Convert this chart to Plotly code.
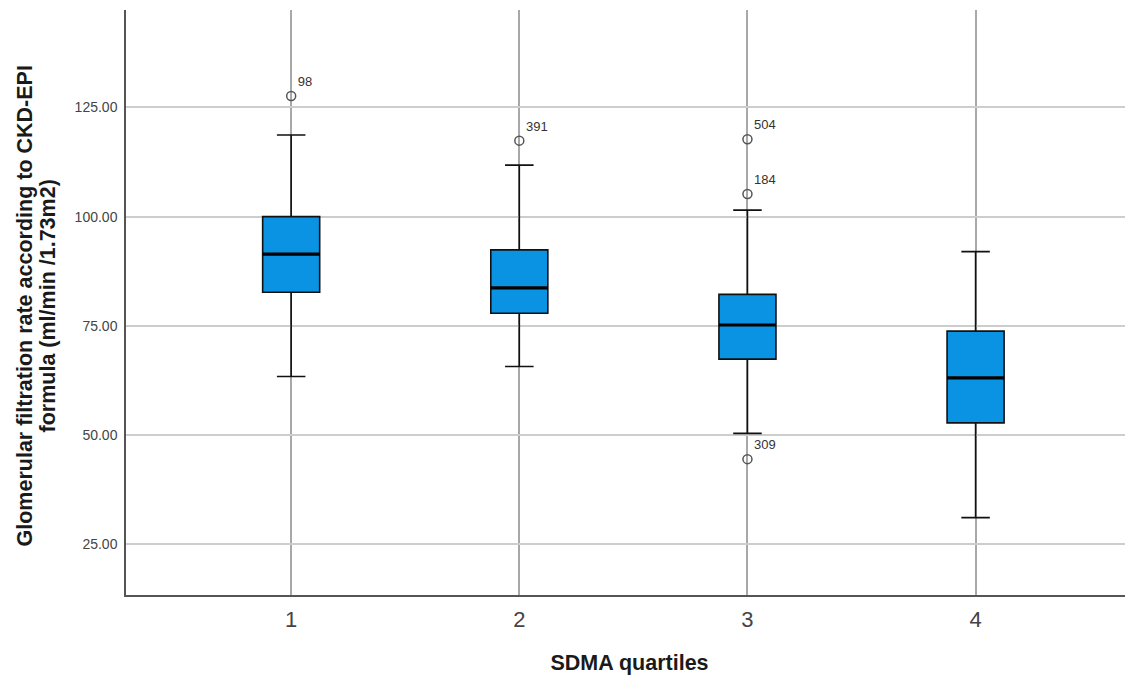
import plotly.graph_objects as go

# ---- data ----
categories = [1, 2, 3, 4]
lower_whisker = [63.4, 65.7, 50.4, 31.1]
q1 = [82.7, 77.9, 67.4, 52.8]
median = [91.4, 83.7, 75.2, 63.1]
q3 = [100.0, 92.4, 82.2, 73.8]
upper_whisker = [118.7, 111.8, 101.5, 92.0]

outlier_x = [1, 2, 3, 3, 3]
outlier_y = [127.6, 117.4, 117.7, 105.2, 44.5]
outlier_labels = ["98", "391", "504", "184", "309"]

y_ticks = [25, 50, 75, 100, 125]
y_tick_labels = ["25.00", "50.00", "75.00", "100.00", "125.00"]

y_title_lines = ["Glomerular filtration rate according to CKD-EPI",
                 "formula (ml/min /1.73m2)"]
x_title = "SDMA quartiles"

box_width = 0.25
box_fill = "#0a93e2"

fig = go.Figure()
fig.add_trace(go.Box(
    x=categories, q1=q1, median=median, q3=q3,
    lowerfence=lower_whisker, upperfence=upper_whisker,
    width=box_width, whiskerwidth=0.5,
    fillcolor=box_fill,
    line=dict(color="#111111", width=1.6),
    boxpoints=False, showlegend=False, hoverinfo="skip",
))

# thicker median lines
for c, m in zip(categories, median):
    fig.add_trace(go.Scatter(
        x=[c - box_width / 2, c + box_width / 2], y=[m, m],
        mode="lines", line=dict(color="black", width=3.2),
        showlegend=False, hoverinfo="skip",
    ))

fig.add_trace(go.Scatter(
    x=outlier_x, y=outlier_y, mode="markers+text",
    text=outlier_labels, textposition="top right",
    textfont=dict(family="Liberation Sans, Arial, sans-serif", size=13, color="#333333"),
    marker=dict(symbol="circle-open", size=9, color="#555555", line=dict(width=1.5)),
    showlegend=False, hoverinfo="skip",
))

# y-axis title as two rotated lines (tighter line spacing than the axis title)
for line_text, shift in zip(y_title_lines, [-102, -79]):
    fig.add_annotation(
        text="<b>" + line_text + "</b>", textangle=-90,
        xref="paper", yref="paper", x=0, y=0.5, xanchor="center", yanchor="middle",
        xshift=shift, yshift=-4, showarrow=False,
        font=dict(family="Liberation Sans, Arial", size=21.5, color="#1a1a1a"),
    )

# page body has an 8px margin, so the figure is laid out 8px smaller/shifted
fig.update_layout(
    width=1125, height=667,
    margin=dict(l=118, r=0, t=2, b=80),
    plot_bgcolor="white", paper_bgcolor="white",
    font=dict(family="Liberation Sans, Arial, sans-serif", color="#333333"),
)
fig.update_xaxes(
    range=[0.276, 4.69], tickvals=categories, ticktext=[str(c) for c in categories],
    tickfont=dict(family="Liberation Sans Narrow, Liberation Sans, Arial", size=22, color="#444444"),
    ticklabelstandoff=4,
    showgrid=True, gridcolor="#a8a8a8", gridwidth=1.6,
    showline=True, linecolor="#555555", linewidth=1.5,
    zeroline=False, ticks="",
    title=dict(text="<b>" + x_title + "</b>",
               font=dict(family="Liberation Sans, Arial", size=21.5, color="#1a1a1a"),
               standoff=24),
)
fig.update_yaxes(
    range=[13.4, 147.3], tickvals=y_ticks, ticktext=y_tick_labels,
    tickfont=dict(family="Liberation Sans, Arial", size=14, color="#444444"),
    ticklabelstandoff=4,
    showgrid=True, gridcolor="#cdcdcd", gridwidth=1.6,
    showline=True, linecolor="#555555", linewidth=1.5,
    zeroline=False, ticks="", ticklen=0,
)

fig.write_html("out.html")
